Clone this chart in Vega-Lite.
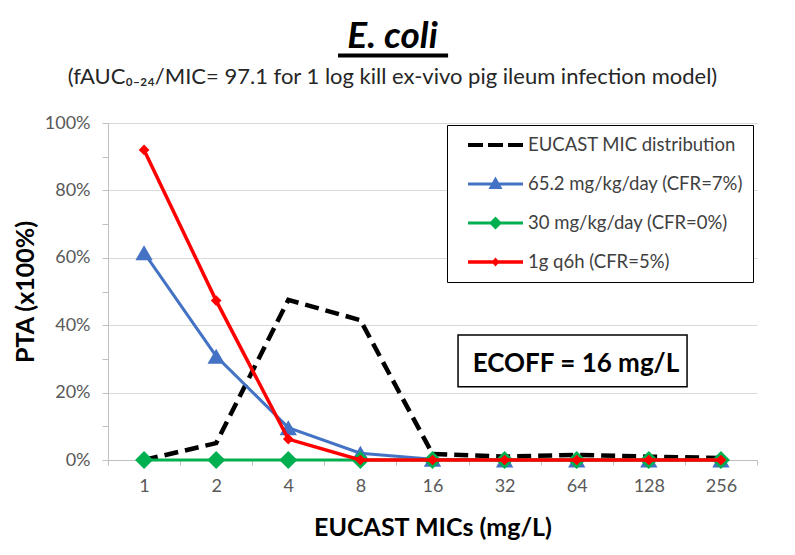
{
  "$schema": "https://vega.github.io/schema/vega-lite/v6.json",
  "width": 649,
  "height": 337,
  "autosize": {"type": "none"},
  "padding": {"left": 108, "top": 123, "right": 38, "bottom": 95},
  "background": "white",
  "config": {"font": "Lato", "view": {"stroke": null}},
  "title": {
    "text": "E. coli",
    "subtitle": "(fAUC₀₋₂₄/MIC= 97.1 for 1 log kill ex-vivo pig ileum infection model)",
    "anchor": "middle",
    "frame": "group",
    "dx": -40,
    "font": "Lato",
    "fontSize": 37,
    "fontWeight": "bold",
    "fontStyle": "italic",
    "color": "#000000",
    "subtitleFont": "Lato",
    "subtitleFontSize": 22,
    "subtitleColor": "#262626",
    "subtitlePadding": 11,
    "offset": -35
  },
  "datasets": {
    "pta": [
      {"mic": 1, "series": "EUCAST MIC distribution", "value": 0.0},
      {"mic": 2, "series": "EUCAST MIC distribution", "value": 0.05},
      {"mic": 4, "series": "EUCAST MIC distribution", "value": 0.475},
      {"mic": 8, "series": "EUCAST MIC distribution", "value": 0.415},
      {"mic": 16, "series": "EUCAST MIC distribution", "value": 0.018},
      {"mic": 32, "series": "EUCAST MIC distribution", "value": 0.01},
      {"mic": 64, "series": "EUCAST MIC distribution", "value": 0.015},
      {"mic": 128, "series": "EUCAST MIC distribution", "value": 0.01},
      {"mic": 256, "series": "EUCAST MIC distribution", "value": 0.006},
      {"mic": 1, "series": "65.2 mg/kg/day (CFR=7%)", "value": 0.615},
      {"mic": 2, "series": "65.2 mg/kg/day (CFR=7%)", "value": 0.308},
      {"mic": 4, "series": "65.2 mg/kg/day (CFR=7%)", "value": 0.096},
      {"mic": 8, "series": "65.2 mg/kg/day (CFR=7%)", "value": 0.02},
      {"mic": 16, "series": "65.2 mg/kg/day (CFR=7%)", "value": 0.002},
      {"mic": 32, "series": "65.2 mg/kg/day (CFR=7%)", "value": 0.0},
      {"mic": 64, "series": "65.2 mg/kg/day (CFR=7%)", "value": 0.0},
      {"mic": 128, "series": "65.2 mg/kg/day (CFR=7%)", "value": 0.0},
      {"mic": 256, "series": "65.2 mg/kg/day (CFR=7%)", "value": 0.0},
      {"mic": 1, "series": "30 mg/kg/day (CFR=0%)", "value": 0.0},
      {"mic": 2, "series": "30 mg/kg/day (CFR=0%)", "value": 0.0},
      {"mic": 4, "series": "30 mg/kg/day (CFR=0%)", "value": 0.0},
      {"mic": 8, "series": "30 mg/kg/day (CFR=0%)", "value": 0.0},
      {"mic": 16, "series": "30 mg/kg/day (CFR=0%)", "value": 0.0},
      {"mic": 32, "series": "30 mg/kg/day (CFR=0%)", "value": 0.0},
      {"mic": 64, "series": "30 mg/kg/day (CFR=0%)", "value": 0.0},
      {"mic": 128, "series": "30 mg/kg/day (CFR=0%)", "value": 0.0},
      {"mic": 256, "series": "30 mg/kg/day (CFR=0%)", "value": 0.0},
      {"mic": 1, "series": "1g q6h (CFR=5%)", "value": 0.92},
      {"mic": 2, "series": "1g q6h (CFR=5%)", "value": 0.473},
      {"mic": 4, "series": "1g q6h (CFR=5%)", "value": 0.062},
      {"mic": 8, "series": "1g q6h (CFR=5%)", "value": 0.0},
      {"mic": 16, "series": "1g q6h (CFR=5%)", "value": 0.0},
      {"mic": 32, "series": "1g q6h (CFR=5%)", "value": 0.0},
      {"mic": 64, "series": "1g q6h (CFR=5%)", "value": 0.0},
      {"mic": 128, "series": "1g q6h (CFR=5%)", "value": 0.0},
      {"mic": 256, "series": "1g q6h (CFR=5%)", "value": 0.0}
    ],
    "notes": [
      {"kind": "ecoff", "label": "ECOFF = 16 mg/L", "x1": 4.854, "x2": 8.03, "y1": 0.217, "y2": 0.371, "xc": 6.49, "yc": 0.261},
      {"kind": "underline", "x1": 3.19, "x2": 4.716, "y1": 1.2}
    ]
  },
  "layer": [
    {
      "data": {"name": "pta"},
      "encoding": {
        "x": {
          "field": "mic",
          "type": "ordinal",
          "bandPosition": 0.5,
          "scale": {"type": "band", "paddingInner": 0, "paddingOuter": 0},
          "axis": {
            "title": "EUCAST MICs (mg/L)",
            "titleFont": "Lato",
            "titleFontSize": 25,
            "titleFontWeight": "bold",
            "titleColor": "#000000",
            "titlePadding": 20,
            "labelAngle": 0,
            "labelFont": "Lato",
            "labelFontSize": 18,
            "labelColor": "#595959",
            "labelPadding": 12,
            "tickBand": "extent",
            "tickSize": 5,
            "tickColor": "#bfbfbf",
            "domainColor": "#bfbfbf",
            "grid": false
          }
        },
        "y": {
          "field": "value",
          "type": "quantitative",
          "scale": {"domain": [0, 1], "nice": false},
          "axis": {
            "title": "PTA (x100%)",
            "values": [0, 0.1, 0.2, 0.3, 0.4, 0.5, 0.6, 0.7, 0.8, 0.9, 1],
            "format": ".0%",
            "labelExpr": "round(datum.value*10) % 2 == 0 ? datum.label : ''",
            "grid": true,
            "gridColor": "#d9d9d9",
            "gridOpacity": {"condition": {"test": "round(datum.value*10) % 2 == 0", "value": 1}, "value": 0},
            "tickSize": 6,
            "tickColor": "#bfbfbf",
            "domainColor": "#bfbfbf",
            "labelPadding": 12,
            "labelFont": "Lato",
            "labelFontSize": 18,
            "labelColor": "#595959",
            "titleFont": "Lato",
            "titleFontSize": 25,
            "titleFontWeight": "bold",
            "titleColor": "#000000",
            "titlePadding": 6
          }
        },
        "color": {
          "field": "series",
          "type": "nominal",
          "scale": {
            "domain": ["EUCAST MIC distribution", "65.2 mg/kg/day (CFR=7%)", "30 mg/kg/day (CFR=0%)", "1g q6h (CFR=5%)"],
            "range": ["#000000", "#4472C4", "#00B050", "#FF0000"]
          },
          "legend": {
            "orient": "none",
            "legendX": 339,
            "legendY": 2,
            "title": null,
            "padding": 10,
            "strokeColor": "#000000",
            "fillColor": "#ffffff",
            "labelFont": "Lato",
            "labelFontSize": 18.5,
            "labelColor": "#404040",
            "labelOffset": 51,
            "labelLimit": 400,
            "labelExpr": "datum.label + '\u00a0\u00a0\u00a0'",
            "symbolSize": 400,
            "symbolStrokeWidth": 0,
            "symbolOpacity": 1,
            "rowPadding": 19
          }
        }
      },
      "layer": [
        {
          "transform": [{"filter": "datum.series == 'none'"}],
          "mark": {"type": "point", "filled": true, "opacity": 1, "strokeWidth": 0},
          "encoding": {
            "shape": {
              "field": "series",
              "type": "nominal",
              "scale": {
                "domain": ["EUCAST MIC distribution", "65.2 mg/kg/day (CFR=7%)", "30 mg/kg/day (CFR=0%)", "1g q6h (CFR=5%)"],
                "range": [
                  "M0.1,-0.2H1.6V0.2H0.1Z M2.1,-0.2H3.6V0.2H2.1Z M4.1,-0.2H5.6V0.2H4.1Z",
                  "M0.1,-0.15H5.6V0.15H0.1Z M2.85,-0.75L3.55,0.5H2.15Z",
                  "M0.1,-0.15H5.6V0.15H0.1Z M2.85,-0.65L3.5,0L2.85,0.65L2.2,0Z",
                  "M0.1,-0.17H5.6V0.17H0.1Z M2.85,-0.45L3.25,0L2.85,0.45L2.45,0Z"
                ]
              },
              "legend": {
                "orient": "none",
                "legendX": 339,
                "legendY": 2,
                "title": null,
                "padding": 10,
                "strokeColor": "#000000",
                "fillColor": "#ffffff",
                "labelFont": "Lato",
                "labelFontSize": 18.5,
                "labelColor": "#404040",
                "labelOffset": 51,
                "labelLimit": 400,
                "labelExpr": "datum.label + '\u00a0\u00a0\u00a0'",
                "symbolSize": 400,
                "symbolStrokeWidth": 0,
                "symbolOpacity": 1,
                "rowPadding": 19
              }
            }
          }
        },
        {
          "transform": [{"filter": "datum.series == 'EUCAST MIC distribution'"}],
          "mark": {"type": "line", "strokeWidth": 4.5, "strokeDash": [14, 7]}
        },
        {
          "transform": [{"filter": "datum.series == '65.2 mg/kg/day (CFR=7%)'"}],
          "mark": {"type": "line", "strokeWidth": 3}
        },
        {
          "transform": [{"filter": "datum.series == '65.2 mg/kg/day (CFR=7%)'"}],
          "mark": {"type": "point", "shape": "triangle-up", "filled": true, "opacity": 1, "size": 300}
        },
        {
          "transform": [{"filter": "datum.series == '30 mg/kg/day (CFR=0%)'"}],
          "mark": {"type": "line", "strokeWidth": 3}
        },
        {
          "transform": [{"filter": "datum.series == '30 mg/kg/day (CFR=0%)'"}],
          "mark": {"type": "point", "shape": "diamond", "filled": true, "opacity": 1, "size": 324}
        },
        {
          "transform": [{"filter": "datum.series == '1g q6h (CFR=5%)'"}],
          "mark": {"type": "line", "strokeWidth": 3.5}
        },
        {
          "transform": [{"filter": "datum.series == '1g q6h (CFR=5%)'"}],
          "mark": {"type": "point", "shape": "diamond", "filled": true, "opacity": 1, "size": 115}
        }
      ]
    },
    {
      "data": {"name": "notes"},
      "layer": [
        {
          "transform": [{"filter": "datum.kind == 'ecoff'"}],
          "mark": {"type": "rect", "fill": "#ffffff", "stroke": "#000000", "strokeWidth": 1.5},
          "encoding": {
            "x": {"field": "x1", "type": "quantitative", "scale": {"domain": [0, 9], "nice": false, "zero": false}, "axis": null},
            "x2": {"field": "x2"},
            "y": {"field": "y1", "type": "quantitative", "scale": {"domain": [0, 1], "nice": false}, "axis": null},
            "y2": {"field": "y2"}
          }
        },
        {
          "transform": [{"filter": "datum.kind == 'ecoff'"}],
          "mark": {"type": "text", "font": "Lato", "fontSize": 26, "fontWeight": "bold", "color": "#000000", "align": "center", "baseline": "alphabetic"},
          "encoding": {
            "x": {"field": "xc", "type": "quantitative", "scale": {"domain": [0, 9], "nice": false, "zero": false}, "axis": null},
            "y": {"field": "yc", "type": "quantitative", "scale": {"domain": [0, 1], "nice": false}, "axis": null},
            "text": {"field": "label"}
          }
        },
        {
          "transform": [{"filter": "datum.kind == 'underline'"}],
          "mark": {"type": "rule", "color": "#000000", "strokeWidth": 4},
          "encoding": {
            "x": {"field": "x1", "type": "quantitative", "scale": {"domain": [0, 9], "nice": false, "zero": false}, "axis": null},
            "x2": {"field": "x2"},
            "y": {"field": "y1", "type": "quantitative", "scale": {"domain": [0, 1], "nice": false}, "axis": null}
          }
        }
      ]
    }
  ],
  "resolve": {"scale": {"x": "independent"}, "axis": {"x": "independent", "y": "independent"}}
}
